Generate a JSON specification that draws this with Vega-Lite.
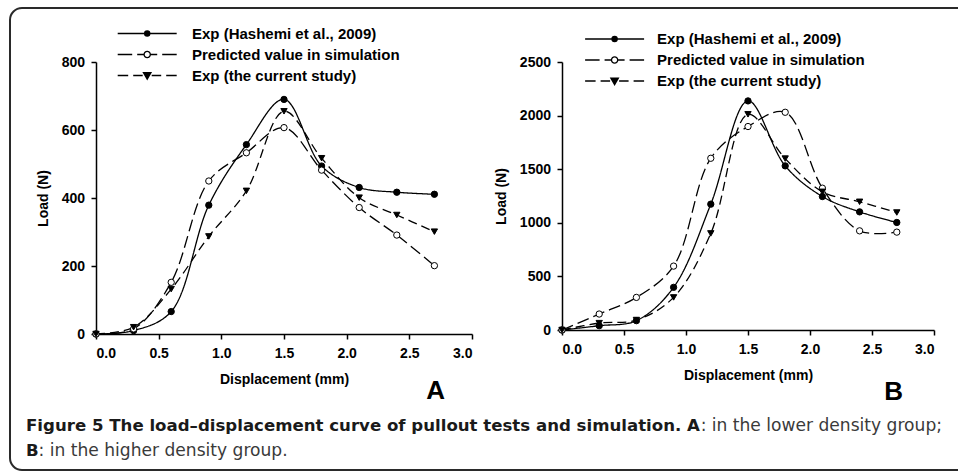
{
  "$schema": "https://vega.github.io/schema/vega-lite/v6.json",
  "background": "white",
  "padding": {"left": 9, "top": 7, "right": -14, "bottom": 0},
  "config": {
    "view": {"stroke": null},
    "axis": {
      "grid": false,
      "domainColor": "black", "domainWidth": 1.5,
      "tickColor": "black", "tickWidth": 1.5, "tickSize": 5,
      "labelFont": "Liberation Sans", "labelFontWeight": "bold", "labelFontSize": 14, "labelColor": "black",
      "titleFont": "Liberation Sans", "titleFontWeight": "bold", "titleFontSize": 14, "titleColor": "black"
    },
    "axisX": {"labelPadding": 7, "titlePadding": 12},
    "axisY": {"labelPadding": 6.5, "titlePadding": 11},
    "legend": {
      "labelFont": "Liberation Sans", "labelFontWeight": "bold", "labelFontSize": 15, "labelColor": "black", "labelLimit": 0,
      "symbolSize": 100, "symbolStrokeWidth": 1.3, "symbolStrokeColor": "black", "rowPadding": 5, "title": null
    }
  },
  "datasets": {
    "A": [
      {"series": "Exp (Hashemi et al., 2009)", "disp": 0, "load": 0},
      {"series": "Exp (Hashemi et al., 2009)", "disp": 0.3, "load": 10},
      {"series": "Exp (Hashemi et al., 2009)", "disp": 0.6, "load": 66},
      {"series": "Exp (Hashemi et al., 2009)", "disp": 0.9, "load": 379},
      {"series": "Exp (Hashemi et al., 2009)", "disp": 1.2, "load": 557},
      {"series": "Exp (Hashemi et al., 2009)", "disp": 1.5, "load": 690},
      {"series": "Exp (Hashemi et al., 2009)", "disp": 1.8, "load": 494},
      {"series": "Exp (Hashemi et al., 2009)", "disp": 2.1, "load": 431},
      {"series": "Exp (Hashemi et al., 2009)", "disp": 2.4, "load": 417},
      {"series": "Exp (Hashemi et al., 2009)", "disp": 2.7, "load": 411},
      {"series": "Predicted value in simulation", "disp": 0, "load": 0},
      {"series": "Predicted value in simulation", "disp": 0.3, "load": 15},
      {"series": "Predicted value in simulation", "disp": 0.6, "load": 152},
      {"series": "Predicted value in simulation", "disp": 0.9, "load": 450},
      {"series": "Predicted value in simulation", "disp": 1.2, "load": 533},
      {"series": "Predicted value in simulation", "disp": 1.5, "load": 607},
      {"series": "Predicted value in simulation", "disp": 1.8, "load": 482},
      {"series": "Predicted value in simulation", "disp": 2.1, "load": 372},
      {"series": "Predicted value in simulation", "disp": 2.4, "load": 291},
      {"series": "Predicted value in simulation", "disp": 2.7, "load": 201},
      {"series": "Exp (the current study)", "disp": 0, "load": 0},
      {"series": "Exp (the current study)", "disp": 0.3, "load": 20},
      {"series": "Exp (the current study)", "disp": 0.6, "load": 132},
      {"series": "Exp (the current study)", "disp": 0.9, "load": 287},
      {"series": "Exp (the current study)", "disp": 1.2, "load": 421},
      {"series": "Exp (the current study)", "disp": 1.5, "load": 655},
      {"series": "Exp (the current study)", "disp": 1.8, "load": 517},
      {"series": "Exp (the current study)", "disp": 2.1, "load": 401},
      {"series": "Exp (the current study)", "disp": 2.4, "load": 350},
      {"series": "Exp (the current study)", "disp": 2.7, "load": 301}
    ],
    "B": [
      {"series": "Exp (Hashemi et al., 2009)", "disp": 0, "load": 0},
      {"series": "Exp (Hashemi et al., 2009)", "disp": 0.3, "load": 40},
      {"series": "Exp (Hashemi et al., 2009)", "disp": 0.6, "load": 87},
      {"series": "Exp (Hashemi et al., 2009)", "disp": 0.9, "load": 398},
      {"series": "Exp (Hashemi et al., 2009)", "disp": 1.2, "load": 1174},
      {"series": "Exp (Hashemi et al., 2009)", "disp": 1.5, "load": 2137},
      {"series": "Exp (Hashemi et al., 2009)", "disp": 1.8, "load": 1531},
      {"series": "Exp (Hashemi et al., 2009)", "disp": 2.1, "load": 1245},
      {"series": "Exp (Hashemi et al., 2009)", "disp": 2.4, "load": 1102},
      {"series": "Exp (Hashemi et al., 2009)", "disp": 2.7, "load": 1003},
      {"series": "Predicted value in simulation", "disp": 0, "load": 0},
      {"series": "Predicted value in simulation", "disp": 0.3, "load": 149},
      {"series": "Predicted value in simulation", "disp": 0.6, "load": 304},
      {"series": "Predicted value in simulation", "disp": 0.9, "load": 596},
      {"series": "Predicted value in simulation", "disp": 1.2, "load": 1602},
      {"series": "Predicted value in simulation", "disp": 1.5, "load": 1898},
      {"series": "Predicted value in simulation", "disp": 1.8, "load": 2031},
      {"series": "Predicted value in simulation", "disp": 2.1, "load": 1323},
      {"series": "Predicted value in simulation", "disp": 2.4, "load": 925},
      {"series": "Predicted value in simulation", "disp": 2.7, "load": 913},
      {"series": "Exp (the current study)", "disp": 0, "load": 0},
      {"series": "Exp (the current study)", "disp": 0.3, "load": 64},
      {"series": "Exp (the current study)", "disp": 0.6, "load": 93},
      {"series": "Exp (the current study)", "disp": 0.9, "load": 304},
      {"series": "Exp (the current study)", "disp": 1.2, "load": 901},
      {"series": "Exp (the current study)", "disp": 1.5, "load": 2012},
      {"series": "Exp (the current study)", "disp": 1.8, "load": 1599},
      {"series": "Exp (the current study)", "disp": 2.1, "load": 1289},
      {"series": "Exp (the current study)", "disp": 2.4, "load": 1196},
      {"series": "Exp (the current study)", "disp": 2.7, "load": 1096}
    ]
  },
  "bounds": "flush",
  "columns": 2,
  "align": {"row": "each", "column": "all"},
  "spacing": {"row": 86, "column": 90},
  "concat": [
    {
      "width": 376, "height": 272,
      "data": {"name": "A"},
      "title": {"text": "A", "orient": "bottom", "anchor": "end", "frame": "group", "font": "Liberation Sans", "fontSize": 26, "fontWeight": "bold", "color": "black", "offset": -8, "dx": -27},
      "encoding": {
        "x": {"field": "disp", "type": "quantitative", "scale": {"domain": [0, 3], "nice": false}, "axis": {"title": "Displacement (mm)", "values": [0, 0.5, 1, 1.5, 2, 2.5, 3], "format": ".1f"}},
        "y": {"field": "load", "type": "quantitative", "scale": {"domain": [0, 800], "nice": false}, "axis": {"title": "Load (N)", "values": [0, 200, 400, 600, 800], "format": "d"}}
      },
      "resolve": {"scale": {"shape": "independent"}, "legend": {"shape": "independent"}},
      "layer": [
        {
          "mark": {"type": "line", "interpolate": "catmull-rom", "color": "black", "strokeWidth": 1.3},
          "encoding": {
            "strokeDash": {"field": "series", "type": "nominal", "scale": {"domain": ["Exp (Hashemi et al., 2009)", "Predicted value in simulation", "Exp (the current study)"], "range": [[1, 0], [12, 5], [9, 5]]}, "legend": null}
          }
        },
        {
          "mark": {"type": "point", "filled": true, "stroke": "black", "strokeWidth": 1, "size": 40, "opacity": 1},
          "encoding": {
            "shape": {"field": "series", "type": "nominal", "scale": {"domain": ["Exp (Hashemi et al., 2009)", "Predicted value in simulation", "Exp (the current study)"], "range": ["circle", "circle", "triangle-down"]}, "legend": null},
            "fill": {"field": "series", "type": "nominal", "scale": {"domain": ["Exp (Hashemi et al., 2009)", "Predicted value in simulation", "Exp (the current study)"], "range": ["black", "white", "black"]}, "legend": null}
          }
        },
        {
          "transform": [{"filter": "false"}],
          "mark": {"type": "point", "color": "black", "strokeWidth": 1.3, "opacity": 1},
          "encoding": {
            "shape": {
              "field": "series", "type": "nominal",
              "scale": {"domain": ["Exp (Hashemi et al., 2009)", "Predicted value in simulation", "Exp (the current study)"], "range": [
                "M-5.9,0H5.9M-0.52,0A0.52,0.52,0,1,0,0.52,0A0.52,0.52,0,1,0,-0.52,0M-0.27,0A0.27,0.27,0,1,0,0.27,0A0.27,0.27,0,1,0,-0.27,0M-0.06,0A0.06,0.06,0,1,0,0.06,0A0.06,0.06,0,1,0,-0.06,0",
                "M-5.9,0H-3M-2,0H-0.62M0.62,0H2M3,0H5.9M-0.62,0A0.62,0.62,0,1,0,0.62,0A0.62,0.62,0,1,0,-0.62,0",
                "M-5.9,0H-3.8M-2.8,0H-0.9M0.9,0H2.8M3.8,0H5.9M-0.75,-0.55L0.75,-0.55L0,0.75ZM-0.375,-0.333L0.375,-0.333L0,0.317ZM-0.11,-0.18L0.11,-0.18L0,-0.02Z"
              ]},
              "legend": {"orient": "none", "legendX": 43.7, "legendY": -36, "labelOffset": 37.3}
            }
          }
        }
      ]
    },
    {
      "width": 372, "height": 268,
      "data": {"name": "B"},
      "title": {"text": "B", "orient": "bottom", "anchor": "end", "frame": "group", "font": "Liberation Sans", "fontSize": 26, "fontWeight": "bold", "color": "black", "offset": -3, "dx": -31},
      "encoding": {
        "x": {"field": "disp", "type": "quantitative", "scale": {"domain": [0, 3], "nice": false}, "axis": {"title": "Displacement (mm)", "values": [0, 0.5, 1, 1.5, 2, 2.5, 3], "format": ".1f"}},
        "y": {"field": "load", "type": "quantitative", "scale": {"domain": [0, 2500], "nice": false}, "axis": {"title": "Load (N)", "values": [0, 500, 1000, 1500, 2000, 2500], "format": "d"}}
      },
      "resolve": {"scale": {"shape": "independent"}, "legend": {"shape": "independent"}},
      "layer": [
        {
          "mark": {"type": "line", "interpolate": "catmull-rom", "color": "black", "strokeWidth": 1.3},
          "encoding": {
            "strokeDash": {"field": "series", "type": "nominal", "scale": {"domain": ["Exp (Hashemi et al., 2009)", "Predicted value in simulation", "Exp (the current study)"], "range": [[1, 0], [12, 5], [9, 5]]}, "legend": null}
          }
        },
        {
          "mark": {"type": "point", "filled": true, "stroke": "black", "strokeWidth": 1, "size": 40, "opacity": 1},
          "encoding": {
            "shape": {"field": "series", "type": "nominal", "scale": {"domain": ["Exp (Hashemi et al., 2009)", "Predicted value in simulation", "Exp (the current study)"], "range": ["circle", "circle", "triangle-down"]}, "legend": null},
            "fill": {"field": "series", "type": "nominal", "scale": {"domain": ["Exp (Hashemi et al., 2009)", "Predicted value in simulation", "Exp (the current study)"], "range": ["black", "white", "black"]}, "legend": null}
          }
        },
        {
          "transform": [{"filter": "false"}],
          "mark": {"type": "point", "color": "black", "strokeWidth": 1.3, "opacity": 1},
          "encoding": {
            "shape": {
              "field": "series", "type": "nominal",
              "scale": {"domain": ["Exp (Hashemi et al., 2009)", "Predicted value in simulation", "Exp (the current study)"], "range": [
                "M-5.9,0H5.9M-0.52,0A0.52,0.52,0,1,0,0.52,0A0.52,0.52,0,1,0,-0.52,0M-0.27,0A0.27,0.27,0,1,0,0.27,0A0.27,0.27,0,1,0,-0.27,0M-0.06,0A0.06,0.06,0,1,0,0.06,0A0.06,0.06,0,1,0,-0.06,0",
                "M-5.9,0H-3M-2,0H-0.62M0.62,0H2M3,0H5.9M-0.62,0A0.62,0.62,0,1,0,0.62,0A0.62,0.62,0,1,0,-0.62,0",
                "M-5.9,0H-3.8M-2.8,0H-0.9M0.9,0H2.8M3.8,0H5.9M-0.75,-0.55L0.75,-0.55L0,0.75ZM-0.375,-0.333L0.375,-0.333L0,0.317ZM-0.11,-0.18L0.11,-0.18L0,-0.02Z"
              ]},
              "legend": {"orient": "none", "legendX": 45.1, "legendY": -30.5, "labelOffset": 35}
            }
          }
        }
      ]
    },
    {
      "width": 376, "height": 40,
      "data": {"values": [{}]},
      "layer": [
        {"mark": {"type": "rect", "x": -86, "x2": 875, "y": -412, "y2": 50, "cornerRadius": 12, "fillOpacity": 0, "fill": "white", "stroke": "#2a2a2a", "strokeWidth": 2}, "encoding": {}},
        {"mark": {"type": "text", "text": "Figure 5 The load\u2013displacement curve of pullout tests and simulation. A", "x": -70, "y": 11, "align": "left", "baseline": "alphabetic", "font": "DejaVu Sans", "fontWeight": "bold", "fontSize": 16.6, "color": "#1a1a1a"}, "encoding": {}},
        {"mark": {"type": "text", "text": ": in the lower density group;", "x": 846, "y": 11, "align": "right", "baseline": "alphabetic", "font": "DejaVu Sans", "fontWeight": "normal", "fontSize": 17.1, "color": "#3a3a3a"}, "encoding": {}},
        {"mark": {"type": "text", "text": "B", "x": -70, "y": 36, "align": "left", "baseline": "alphabetic", "font": "DejaVu Sans", "fontWeight": "bold", "fontSize": 16.6, "color": "#1a1a1a"}, "encoding": {}},
        {"mark": {"type": "text", "text": ": in the higher density group.", "x": -57.5, "y": 36, "align": "left", "baseline": "alphabetic", "font": "DejaVu Sans", "fontWeight": "normal", "fontSize": 17.1, "color": "#3a3a3a"}, "encoding": {}}
      ]
    }
  ]
}
